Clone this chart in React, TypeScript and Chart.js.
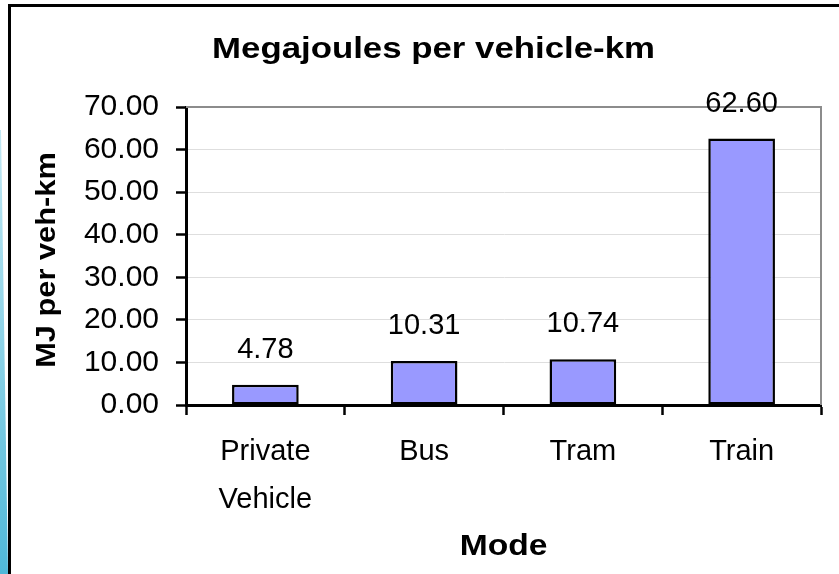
import React, { useEffect, useRef } from 'react';
import { Chart, registerables } from 'chart.js';

Chart.register(...registerables);

const categories: (string | string[])[] = [['Private', 'Vehicle'], 'Bus', 'Tram', 'Train'];
const values = [4.78, 10.31, 10.74, 62.6];
const yTicks = [0, 10, 20, 30, 40, 50, 60, 70];
const chartTitle = 'Megajoules per vehicle-km';
const xTitle = 'Mode';
const yTitle = 'MJ per veh-km';

const FONT = '"Liberation Sans", Arial, sans-serif';

function stretchedText(ctx: any, text: string, x: number, y: number, sx: number, rot: number) {
  ctx.save();
  ctx.translate(x, y);
  if (rot) ctx.rotate(rot);
  ctx.scale(sx, 1);
  ctx.fillText(text, 0, 0);
  ctx.restore();
}

const overlay = {
  id: 'overlay',
  beforeDatasetsDraw(chart: any) {
    const { ctx, chartArea: a } = chart;
    ctx.save();
    ctx.strokeStyle = '#8c8c8c';
    ctx.lineWidth = 2;
    ctx.beginPath();
    ctx.moveTo(a.left, a.top);
    ctx.lineTo(a.right, a.top);
    ctx.lineTo(a.right, a.bottom);
    ctx.stroke();
    ctx.restore();
  },
  afterDatasetsDraw(chart: any) {
    const { ctx } = chart;
    const meta = chart.getDatasetMeta(0);
    ctx.save();
    ctx.fillStyle = '#000';
    ctx.font = `29px ${FONT}`;
    ctx.textAlign = 'center';
    ctx.textBaseline = 'alphabetic';
    meta.data.forEach((bar: any, i: number) => {
      ctx.fillText(values[i].toFixed(2), bar.x, bar.y - 27);
    });
    ctx.restore();
  },
  afterDraw(chart: any) {
    const { ctx, chartArea: a } = chart;
    ctx.save();
    ctx.fillStyle = '#000';
    ctx.textAlign = 'center';
    ctx.textBaseline = 'alphabetic';
    ctx.font = `bold 29px ${FONT}`;
    stretchedText(ctx, chartTitle, (a.left + a.right) / 2 - 70, 58, 1.2, 0);
    ctx.font = `bold 30px ${FONT}`;
    stretchedText(ctx, xTitle, (a.left + a.right) / 2, 555, 1.12, 0);
    ctx.font = `bold 28px ${FONT}`;
    stretchedText(ctx, yTitle, 55, (a.top + a.bottom) / 2 + 4, 1.1, -Math.PI / 2);
    ctx.restore();
  },
};

export default function App() {
  const ref = useRef<HTMLCanvasElement | null>(null);

  useEffect(() => {
    if (!ref.current) return;
    const chart = new Chart(ref.current, {
      type: 'bar',
      data: {
        labels: categories as any,
        datasets: [
          {
            data: values,
            backgroundColor: '#9999ff',
            borderColor: '#000000',
            borderWidth: 2.5,
            borderSkipped: false,
            barPercentage: 0.42,
            categoryPercentage: 1,
          },
        ],
      },
      options: {
        animation: false,
        responsive: false,
        devicePixelRatio: 1,
        layout: { padding: { left: 0, top: 107, right: 18, bottom: 0 } },
        plugins: {
          legend: { display: false },
          title: { display: false },
          tooltip: { enabled: false },
        },
        scales: {
          x: {
            type: 'category',
            offset: true,
            afterFit: (s: any) => {
              s.height = 169;
            },
            grid: {
              offset: true,
              drawOnChartArea: false,
              drawTicks: true,
              tickLength: 10,
              tickColor: '#000',
              tickWidth: 2.5,
            },
            border: { display: true, color: '#000', width: 3 },
            ticks: {
              color: '#000',
              font: { family: FONT, size: 29, lineHeight: 1.65 },
              padding: 13,
              maxRotation: 0,
              minRotation: 0,
              autoSkip: false,
            },
          },
          y: {
            type: 'linear',
            min: yTicks[0],
            max: yTicks[yTicks.length - 1],
            afterFit: (s: any) => {
              s.width = 186;
            },
            ticks: {
              stepSize: yTicks[1] - yTicks[0],
              color: '#000',
              font: { family: FONT, size: 30 },
              padding: 17,
              callback: (v: any) => Number(v).toFixed(2),
            },
            grid: {
              color: '#dedede',
              lineWidth: 1,
              drawTicks: true,
              tickLength: 10,
              tickColor: '#000',
              tickWidth: 2.5,
            },
            border: { display: true, color: '#000', width: 3 },
          },
        },
      },
      plugins: [overlay],
    });
    return () => chart.destroy();
  }, []);

  return (
    <div
      style={{
        position: 'absolute',
        left: 0,
        top: 0,
        width: 839,
        height: 574,
        overflow: 'hidden',
        background: '#ffffff',
      }}
    >
      <div
        style={{
          position: 'absolute',
          left: 0,
          top: 0,
          width: 9,
          height: 574,
          background: 'linear-gradient(to bottom, #e4f5fa 0%, #9bd8ea 50%, #4fb8d8 100%)',
          clipPath: 'polygon(0px 130px, 1px 130px, 8px 574px, 0px 574px)',
        }}
      />
      <div
        style={{
          position: 'absolute',
          left: 8,
          top: 4,
          width: 900,
          height: 700,
          boxSizing: 'border-box',
          border: '3px solid #000',
          background: '#ffffff',
        }}
      />
      <canvas
        ref={ref}
        width={839}
        height={574}
        style={{ position: 'absolute', left: 0, top: 0, width: 839, height: 574 }}
      />
    </div>
  );
}
